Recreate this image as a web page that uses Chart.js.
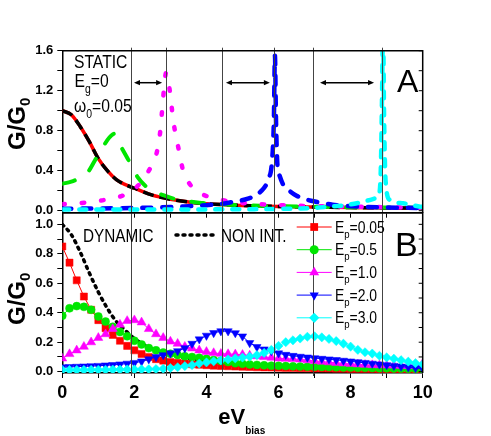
<!DOCTYPE html>
<html>
<head>
<meta charset="utf-8">
<script src="https://cdn.jsdelivr.net/npm/chart.js@4.4.1/dist/chart.umd.min.js"></script>
<style>
  html, body { margin: 0; padding: 0; background: #fff; }
  #wrap { position: relative; width: 491px; height: 436px; }
  #wrap canvas { position: absolute; left: 0; top: 0; }
</style>
</head>
<body>
<div id="wrap">
  <canvas id="staticChart" width="491" height="436"></canvas>
  <canvas id="dynamicChart" width="491" height="436"></canvas>
</div>
<script>
// ---- panel A: static conductance, each curve read at its own bias points
const staticLowX = [0, 0.25, 0.5, 0.75, 1.0, 1.25, 1.5, 1.75, 2.0, 2.5, 3.0, 3.5, 4.0, 5.0, 6.0, 7.0, 8.0, 9.0, 10.0];
const staticLowY = [1.0, 0.96, 0.84, 0.69, 0.52, 0.4, 0.31, 0.26, 0.225, 0.155, 0.115, 0.088, 0.07, 0.052, 0.042, 0.036, 0.031, 0.028, 0.025];

const staticHalfX = [0, 0.25, 0.5, 0.7, 0.9, 1.1, 1.3, 1.45, 1.6, 1.8, 1.95, 2.1, 2.3, 2.5, 2.8, 3.1, 3.4, 3.8, 4.4, 5.0, 6.0, 7.0, 8.0, 9.0, 10.0];
const staticHalfY = [0.27, 0.29, 0.33, 0.38, 0.5, 0.62, 0.73, 0.77, 0.66, 0.53, 0.43, 0.33, 0.25, 0.2, 0.155, 0.12, 0.1, 0.08, 0.065, 0.055, 0.045, 0.04, 0.035, 0.032, 0.03];

const staticOneX = [0, 0.6, 1.2, 1.8, 2.1, 2.3, 2.5, 2.62, 2.72, 2.78, 2.83, 2.88, 2.94, 3.0, 3.08, 3.22, 3.36, 3.55, 3.8, 4.1, 4.4, 4.8, 5.5, 6.5, 8.0, 10.0];
const staticOneY = [0.065, 0.08, 0.11, 0.17, 0.25, 0.34, 0.47, 0.58, 0.8, 1.05, 1.25, 1.38, 1.3, 1.15, 0.9, 0.63, 0.39, 0.26, 0.18, 0.135, 0.11, 0.085, 0.065, 0.05, 0.04, 0.03];

const staticTwoX = [0, 1, 2, 3, 3.5, 4, 4.45, 4.75, 5.15, 5.5, 5.72, 5.82, 5.87, 5.9, 5.93, 5.97, 6.02, 6.13, 6.3, 6.5, 6.7, 6.9, 7.1, 7.5, 8, 9, 10];
const staticTwoY = [0.02, 0.022, 0.027, 0.036, 0.045, 0.055, 0.07, 0.09, 0.12, 0.19, 0.32, 0.5, 0.9, 1.55, 0.9, 0.45, 0.36, 0.26, 0.2, 0.15, 0.12, 0.1, 0.085, 0.06, 0.045, 0.032, 0.027];

const staticThreeX = [0, 2, 4, 5, 6, 6.5, 7, 7.4, 7.9, 8.35, 8.68, 8.8, 8.84, 8.87, 8.9, 8.93, 8.97, 9.09, 9.46, 9.93, 10];
const staticThreeY = [0.012, 0.012, 0.013, 0.015, 0.018, 0.022, 0.028, 0.04, 0.057, 0.09, 0.124, 0.18, 0.45, 1.1, 1.8, 0.9, 0.3, 0.107, 0.074, 0.04, 0.038];

// ---- panel B: dynamic conductance, markers every 0.2 in eV_bias
const biasGrid = [0, 0.2, 0.4, 0.6, 0.8, 1.0, 1.2, 1.4, 1.6, 1.8, 2.0, 2.2, 2.4, 2.6, 2.8, 3.0, 3.2, 3.4, 3.6, 3.8,
  4.0, 4.2, 4.4, 4.6, 4.8, 5.0, 5.2, 5.4, 5.6, 5.8, 6.0, 6.2, 6.4, 6.6, 6.8, 7.0, 7.2, 7.4, 7.6, 7.8,
  8.0, 8.2, 8.4, 8.6, 8.8, 9.0, 9.2, 9.4, 9.6, 9.8, 10.0];
const dynEp005 = [0.85, 0.74, 0.62, 0.51, 0.42, 0.35, 0.295, 0.25, 0.21, 0.175, 0.145, 0.12, 0.1, 0.085, 0.075, 0.065, 0.06, 0.055, 0.05, 0.047,
  0.044, 0.041, 0.039, 0.037, 0.035, 0.033, 0.032, 0.03, 0.029, 0.028, 0.027, 0.026, 0.025, 0.024, 0.023, 0.022, 0.022, 0.021, 0.02, 0.02,
  0.019, 0.019, 0.018, 0.018, 0.017, 0.017, 0.016, 0.016, 0.016, 0.015, 0.015];
const dynEp05 = [0.38, 0.43, 0.445, 0.44, 0.42, 0.375, 0.34, 0.305, 0.27, 0.24, 0.21, 0.185, 0.16, 0.145, 0.13, 0.122, 0.113, 0.105, 0.1, 0.095,
  0.088, 0.08, 0.073, 0.065, 0.058, 0.053, 0.049, 0.046, 0.043, 0.041, 0.04, 0.038, 0.036, 0.035, 0.034, 0.033, 0.032, 0.031, 0.03, 0.029,
  0.028, 0.027, 0.026, 0.025, 0.024, 0.023, 0.022, 0.021, 0.02, 0.019, 0.018];
const dynEp1 = [0.09, 0.12, 0.145, 0.17, 0.2, 0.23, 0.255, 0.29, 0.32, 0.345, 0.35, 0.335, 0.29, 0.255, 0.23, 0.205, 0.19, 0.17, 0.158, 0.145,
  0.135, 0.127, 0.122, 0.12, 0.118, 0.115, 0.11, 0.105, 0.1, 0.095, 0.09, 0.088, 0.086, 0.083, 0.078, 0.073, 0.068, 0.064, 0.06, 0.056,
  0.053, 0.05, 0.047, 0.045, 0.044, 0.043, 0.042, 0.04, 0.04, 0.045, 0.055];
const dynEp2 = [0.03, 0.032, 0.034, 0.036, 0.038, 0.04, 0.043, 0.046, 0.05, 0.055, 0.06, 0.07, 0.085, 0.1, 0.113, 0.125, 0.14, 0.16, 0.19, 0.22,
  0.245, 0.263, 0.275, 0.275, 0.262, 0.24, 0.195, 0.168, 0.152, 0.14, 0.125, 0.115, 0.108, 0.102, 0.097, 0.092, 0.088, 0.084, 0.08, 0.075,
  0.07, 0.065, 0.06, 0.055, 0.05, 0.045, 0.04, 0.035, 0.03, 0.025, 0.02];
const dynEp3 = [0.012, 0.012, 0.012, 0.012, 0.013, 0.013, 0.013, 0.014, 0.014, 0.015, 0.015, 0.016, 0.017, 0.018, 0.02, 0.025, 0.03, 0.038, 0.045, 0.055,
  0.063, 0.07, 0.077, 0.083, 0.09, 0.096, 0.102, 0.112, 0.127, 0.148, 0.175, 0.2, 0.213, 0.225, 0.237, 0.24, 0.233, 0.222, 0.208, 0.19,
  0.17, 0.148, 0.132, 0.123, 0.108, 0.097, 0.088, 0.078, 0.068, 0.058, 0.05];
const nonIntX = [0, 0.25, 0.5, 0.75, 1.0, 1.25, 1.5, 1.75, 2.0, 2.25, 2.5, 2.75, 3.0, 3.5, 4.0, 4.5, 5.0, 6.0, 7.0, 8.0, 9.0, 10.0];
const nonIntY = [1.0, 0.93, 0.81, 0.67, 0.54, 0.43, 0.34, 0.28, 0.225, 0.185, 0.155, 0.13, 0.113, 0.088, 0.07, 0.059, 0.05, 0.04, 0.034, 0.029, 0.025, 0.022];
const epLabels = ['0.05', '0.5', '1.0', '2.0', '3.0'];

// ---- axes and guides
const xMajor = [0, 2, 4, 6, 8, 10];
const xMinor = [1, 3, 5, 7, 9];
const topYMajor = [0, 0.4, 0.8, 1.2, 1.6];
const topYMinor = [0.2, 0.6, 1.0, 1.4];
const botYMajor = [0, 0.2, 0.4, 0.6, 0.8, 1.0];
const botYMinor = [0.1, 0.3, 0.5, 0.7, 0.9];
const resonanceLines = [1.92, 2.88, 4.42, 5.87, 6.96, 8.86];
const arrowSpans = [[1.99, 2.77], [4.54, 5.76], [7.15, 8.65]];
const arrowLevel = 1.28;

const FONT = '"Liberation Sans", Arial, sans-serif';
Chart.defaults.font.family = FONT;
Chart.defaults.color = '#000';

const pts = (xs, ys) => xs.map((x, i) => ({ x, y: ys[i] }));

function richText(ctx, x, y, parts, o) {
  ctx.save();
  ctx.translate(x, y);
  if (o.rotate) ctx.rotate(o.rotate);
  ctx.scale(o.sx || 1, 1);
  ctx.fillStyle = '#000';
  ctx.textAlign = 'left';
  ctx.textBaseline = 'alphabetic';
  let cx = 0;
  for (const p of parts) {
    const sub = Array.isArray(p);
    const t = sub ? p[0] : p;
    ctx.font = sub ? o.subFont : o.font;
    ctx.fillText(t, cx, sub ? o.subDy : 0);
    cx += ctx.measureText(t).width;
  }
  ctx.restore();
}

function marker(ctx, style, x, y, r, rot) {
  ctx.beginPath();
  if (style === 'rect') {
    const s = r * Math.SQRT1_2;
    ctx.rect(x - s, y - s, 2 * s, 2 * s);
  } else if (style === 'circle') {
    ctx.arc(x, y, r, 0, Math.PI * 2);
  } else if (style === 'triangle') {
    const d = rot ? -1 : 1;
    ctx.moveTo(x, y - d * r);
    ctx.lineTo(x + 0.866 * r, y + d * 0.5 * r);
    ctx.lineTo(x - 0.866 * r, y + d * 0.5 * r);
    ctx.closePath();
  } else {
    ctx.moveTo(x - r, y); ctx.lineTo(x, y - r); ctx.lineTo(x + r, y); ctx.lineTo(x, y + r);
    ctx.closePath();
  }
  ctx.fill();
}

function yAxis(min, max, major, minor) {
  return {
    type: 'linear', min, max,
    afterBuildTicks: s => { s.ticks = major.concat(minor).sort((a, b) => a - b).map(v => ({ value: v })); },
    afterFit: s => { s.width = 62.3; },
    ticks: { autoSkip: false, padding: 4, font: { size: 13, weight: 'bold' },
      callback: v => major.includes(v) ? v.toFixed(1) : '' },
    grid: { drawOnChartArea: false, tickLength: 5, color: '#000', lineWidth: 1 },
    border: { color: '#000', width: 1.5 }
  };
}

function xAxis(height, showLabels) {
  return {
    type: 'linear', min: 0, max: 10,
    afterBuildTicks: s => { s.ticks = xMajor.concat(xMinor).sort((a, b) => a - b).map(v => ({ value: v })); },
    afterFit: s => { s.height = height; },
    ticks: { display: showLabels, autoSkip: false, maxRotation: 0, padding: 4, font: { size: 18, weight: 'bold' },
      callback: v => xMajor.includes(v) ? String(v) : '' },
    grid: { drawOnChartArea: false, tickLength: 5, color: '#000', lineWidth: 1 },
    border: { color: '#000', width: 1.5 }
  };
}

function frame(chart) {
  const { ctx, chartArea: a, scales } = chart;
  ctx.save();
  ctx.strokeStyle = '#000';
  ctx.lineWidth = 1.5;
  ctx.beginPath();
  ctx.moveTo(a.left, a.top); ctx.lineTo(a.right, a.top); ctx.lineTo(a.right, a.bottom);
  ctx.stroke();
  ctx.lineWidth = 1;
  scales.y.ticks.forEach(t => {
    const py = scales.y.getPixelForValue(t.value);
    ctx.beginPath(); ctx.moveTo(a.right, py); ctx.lineTo(a.right - 4, py); ctx.stroke();
  });
  ctx.restore();
}

function guides(chart, top, bottom) {
  const { ctx, scales } = chart;
  ctx.save();
  ctx.strokeStyle = '#444';
  ctx.lineWidth = 1;
  resonanceLines.forEach(v => {
    const px = Math.round(scales.x.getPixelForValue(v)) + 0.5;
    ctx.beginPath(); ctx.moveTo(px, top); ctx.lineTo(px, bottom); ctx.stroke();
  });
  ctx.restore();
}

const lineBase = { pointRadius: 0, fill: false, cubicInterpolationMode: 'monotone', borderCapStyle: 'round', borderJoinStyle: 'round' };

new Chart(document.getElementById('staticChart'), {
  type: 'line',
  data: {
    datasets: [
      { ...lineBase, data: pts(staticLowX, staticLowY), borderColor: '#ff0000', borderWidth: 3.5, borderCapStyle: 'butt', order: 6 },
      { ...lineBase, data: pts(staticLowX, staticLowY), borderColor: '#000000', borderWidth: 3.5, borderDash: [11, 6], borderCapStyle: 'butt', order: 5 },
      { ...lineBase, data: pts(staticHalfX, staticHalfY), borderColor: '#00e600', borderWidth: 4, borderDash: [13, 18], order: 4 },
      { ...lineBase, data: pts(staticOneX, staticOneY), borderColor: '#ff00ff', borderWidth: 4.5, borderDash: [2.5, 17], order: 3 },
      { ...lineBase, data: pts(staticTwoX, staticTwoY), borderColor: '#0000ff', borderWidth: 4.5, borderDash: [9, 11], order: 2 },
      { ...lineBase, data: pts(staticThreeX, staticThreeY), borderColor: '#00ffff', borderWidth: 4.5, borderDash: [7, 10], order: 1 }
    ]
  },
  options: {
    responsive: false, animation: false, events: [],
    layout: { padding: { left: 0, right: 68.3, top: 50.7, bottom: 213.3 } },
    plugins: { legend: { display: false }, tooltip: { enabled: false } },
    scales: { x: xAxis(10, false), y: yAxis(-0.02, 1.6, topYMajor, topYMinor) }
  },
  plugins: [{
    id: 'staticDecor',
    afterDatasetsDraw(chart) {
      const { ctx, chartArea: a, scales } = chart;
      guides(chart, a.top - 3, a.bottom);
      ctx.save();
      ctx.strokeStyle = '#000'; ctx.fillStyle = '#000'; ctx.lineWidth = 1.5;
      const py = scales.y.getPixelForValue(arrowLevel);
      arrowSpans.forEach(([v1, v2]) => {
        const x1 = scales.x.getPixelForValue(v1), x2 = scales.x.getPixelForValue(v2);
        ctx.beginPath(); ctx.moveTo(x1 + 4, py); ctx.lineTo(x2 - 4, py); ctx.stroke();
        ctx.beginPath(); ctx.moveTo(x1, py); ctx.lineTo(x1 + 6, py - 2.6); ctx.lineTo(x1 + 6, py + 2.6); ctx.closePath(); ctx.fill();
        ctx.beginPath(); ctx.moveTo(x2, py); ctx.lineTo(x2 - 6, py - 2.6); ctx.lineTo(x2 - 6, py + 2.6); ctx.closePath(); ctx.fill();
      });
      ctx.restore();
    },
    afterDraw(chart) {
      const { ctx } = chart;
      frame(chart);
      const t = { font: '18px ' + FONT, subFont: '12px ' + FONT, subDy: 6, sx: 0.87 };
      richText(ctx, 74, 68, ['STATIC'], t);
      richText(ctx, 74.5, 86.5, ['E', ['g'], '=0'], t);
      richText(ctx, 74, 111.7, ['\u03c9', ['0'], '=0.05'], t);
      richText(ctx, 397, 91.7, ['A'], { font: '32px ' + FONT, sx: 1 });
      richText(ctx, 25.3, 150, ['G/G', ['0']], { font: 'bold 24px ' + FONT, subFont: 'bold 15px ' + FONT, subDy: 5, rotate: -Math.PI / 2 });
    }
  }]
});

const dynSeries = [dynEp005, dynEp05, dynEp1, dynEp2, dynEp3];
const dynColors = ['#ff0000', '#00e600', '#ff00ff', '#0000ff', '#00ffff'];
const dynStyles = ['rect', 'circle', 'triangle', 'triangle', 'rectRot'];
const dynRot = [0, 0, 0, 180, 0];
const dynRadius = [5, 4, 5.2, 4.8, 4.6];

const dynDatasets = dynSeries.map((ys, i) => ({
  data: pts(biasGrid, ys),
  borderColor: dynColors[i], backgroundColor: dynColors[i], borderWidth: 1,
  pointStyle: dynStyles[i], pointRotation: dynRot[i], pointRadius: dynRadius[i],
  pointBorderWidth: 0.5, fill: false, tension: 0, order: 5 - i
}));
dynDatasets.push({ ...lineBase, data: pts(nonIntX, nonIntY), borderColor: '#000', borderWidth: 3.5, borderDash: [2, 5], order: 6 });

new Chart(document.getElementById('dynamicChart'), {
  type: 'line',
  data: { datasets: dynDatasets },
  options: {
    responsive: false, animation: false, events: [],
    layout: { padding: { left: 0, right: 68.3, top: 212.7, bottom: 0 } },
    plugins: { legend: { display: false }, tooltip: { enabled: false } },
    scales: { x: xAxis(63, true), y: yAxis(-0.009, 1.079, botYMajor, botYMinor) }
  },
  plugins: [{
    id: 'dynamicDecor',
    afterDatasetsDraw(chart) {
      const a = chart.chartArea;
      guides(chart, a.top, a.bottom + 3);
    },
    afterDraw(chart) {
      const { ctx } = chart;
      frame(chart);
      const t = { font: '18px ' + FONT, subFont: '12px ' + FONT, subDy: 6, sx: 0.85 };
      richText(ctx, 83, 242, ['DYNAMIC'], t);
      richText(ctx, 221, 242, ['NON INT.'], t);
      ctx.save();
      ctx.strokeStyle = '#000'; ctx.lineWidth = 3.5; ctx.lineCap = 'round'; ctx.setLineDash([2, 5]);
      ctx.beginPath(); ctx.moveTo(176, 235); ctx.lineTo(218, 235); ctx.stroke();
      ctx.restore();
      const lt = { font: '16px ' + FONT, subFont: '11px ' + FONT, subDy: 5, sx: 0.87 };
      epLabels.forEach((lab, i) => {
        const y = 227 + i * 22.7;
        ctx.save();
        ctx.strokeStyle = dynColors[i]; ctx.lineWidth = 1;
        ctx.beginPath(); ctx.moveTo(296.7, y); ctx.lineTo(331.7, y); ctx.stroke();
        ctx.fillStyle = dynColors[i];
        marker(ctx, dynStyles[i], 314.2, y, dynRadius[i] + 0.5, dynRot[i]);
        ctx.restore();
        richText(ctx, 335, y + 5.5, ['E', ['p'], '=' + lab], lt);
      });
      richText(ctx, 395, 256, ['B'], { font: '34px ' + FONT, sx: 1 });
      richText(ctx, 25.3, 325, ['G/G', ['0']], { font: 'bold 24px ' + FONT, subFont: 'bold 15px ' + FONT, subDy: 5, rotate: -Math.PI / 2 });
      richText(ctx, 218.3, 424, ['eV', ['bias']], { font: 'bold 22px ' + FONT, subFont: 'bold 10px ' + FONT, subDy: 10 });
    }
  }]
});
</script>
</body>
</html>
